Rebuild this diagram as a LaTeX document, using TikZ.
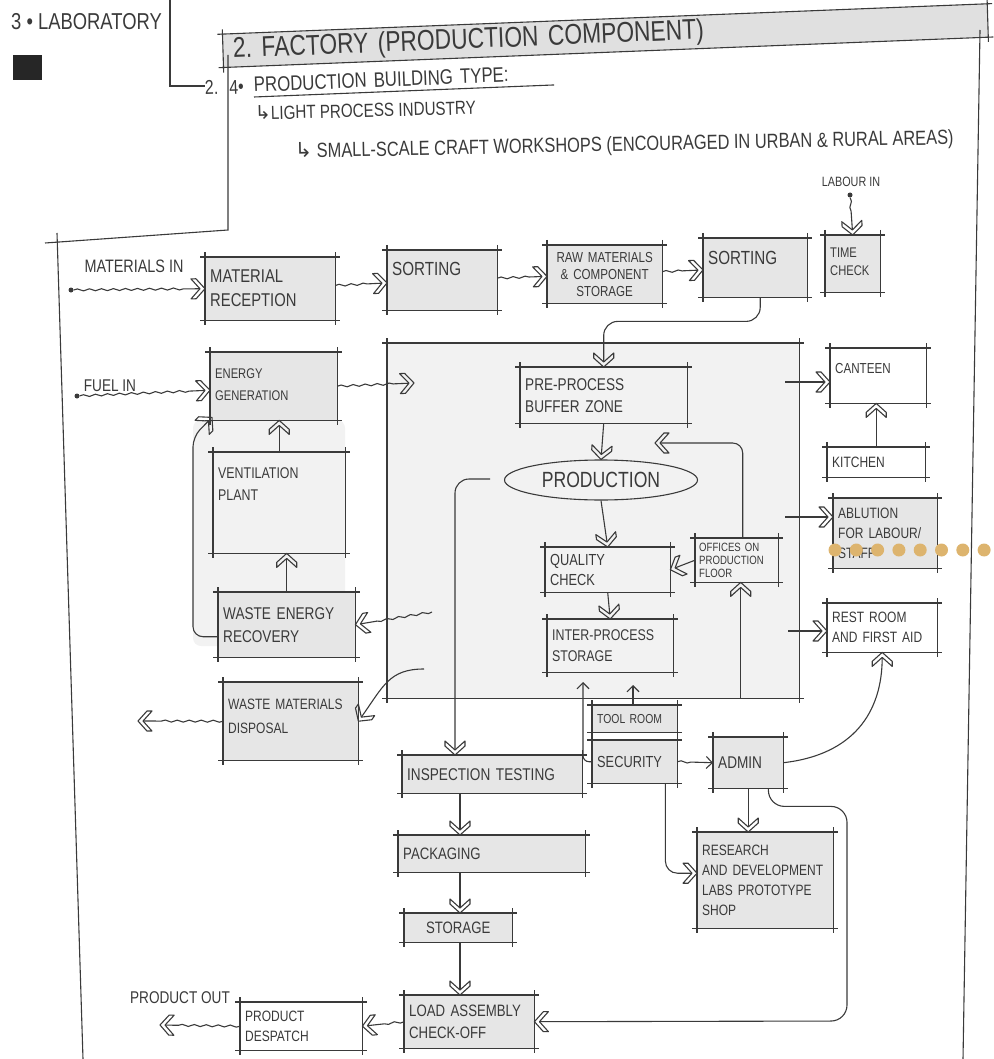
\documentclass[tikz,border=0pt]{standalone}
\usepackage{fontspec}
\newfontfamily\handfont{Liberation Sans}[FakeStretch=0.8]
\newfontfamily\hookfont{DejaVu Sans}
\newcommand\handsize[2]{\handfont\fontsize{#1}{#2}\selectfont}
\usepackage{tikz}
\usetikzlibrary{arrows.meta, shapes.geometric, decorations.pathmorphing}
\definecolor{inkGrey}{HTML}{3A3A3A}
\definecolor{boxGrey}{HTML}{E6E6E6}
\definecolor{areaGrey}{HTML}{F2F2F2}
\definecolor{titleGrey}{HTML}{E0E0E0}
\definecolor{dotTan}{HTML}{DDB46E}
% hollow hand-drawn chevron tip
\pgfdeclarearrow{
  name = Chevron,
  parameters = {\the\pgfarrowlength,\the\pgfarrowwidth},
  setup code = {
    \pgfarrowssettipend{0pt}
    \pgfarrowssetlineend{-.36\pgfarrowlength}
    \pgfarrowssetbackend{-\pgfarrowlength}
    \pgfarrowssetvisualbackend{-\pgfarrowlength}
    \pgfarrowshullpoint{0pt}{0pt}
    \pgfarrowsupperhullpoint{-\pgfarrowlength}{.5\pgfarrowwidth}
    \pgfarrowssavethe\pgfarrowlength
    \pgfarrowssavethe\pgfarrowwidth
  },
  drawing code = {
    \pgfsetdash{}{0pt}
    \pgfsetroundjoin
    \pgfpathmoveto{\pgfqpoint{0pt}{0pt}}
    \pgfpathlineto{\pgfqpoint{-.64\pgfarrowlength}{.5\pgfarrowwidth}}
    \pgfpathlineto{\pgfqpoint{-\pgfarrowlength}{.5\pgfarrowwidth}}
    \pgfpathlineto{\pgfqpoint{-.36\pgfarrowlength}{0pt}}
    \pgfpathlineto{\pgfqpoint{-\pgfarrowlength}{-.5\pgfarrowwidth}}
    \pgfpathlineto{\pgfqpoint{-.64\pgfarrowlength}{-.5\pgfarrowwidth}}
    \pgfpathclose
    \pgfusepathqstroke
  },
  defaults = {length=14pt, width=20pt}
}

\begin{document}
\begin{tikzpicture}[
  x=1pt, y=-1pt,
  ink/.style={draw=inkGrey, line width=1.1pt},
  box/.style={anchor=north west, fill=boxGrey, align=left, inner xsep=5pt, inner ysep=4pt, text=inkGrey},
  lbl/.style={text=inkGrey, inner sep=1pt},
  dotnode/.style={circle, fill=inkGrey, inner sep=0pt, minimum size=5pt},
  chev/.style={ink, -{Chevron[length=14pt, width=20pt]}},
  barb/.style={ink, -{Straight Barb[length=6pt, width=12pt]}},
  wavy/.style={decorate, decoration={snake, amplitude=1pt, segment length=12pt, post length=18pt}}
]
  \useasboundingbox (0,0) rectangle (993,1059);

  % sheet header
  \node[lbl, anchor=west, font=\handsize{23}{26}] (lab3) at (10,22) {3 • LABORATORY};
  \fill[black!85] (13,55) rectangle (42,80);
  \node[box, fill=titleGrey, anchor=west, rotate=2.3, text width=745pt, minimum height=33pt, inner xsep=10pt, inner ysep=1pt, font=\handsize{28.5}{30}] (title) at (223,51) {2.\ FACTORY (PRODUCTION COMPONENT)};
  \node[lbl, anchor=base west, rotate=2, font=\handsize{20}{22}] (num) at (204,95) {2.\hspace{11pt}4\textbullet};
  \node[lbl, anchor=base west, rotate=2.3, text width=300pt, align=left, inner sep=0pt, font=\handsize{21}{24}] (typehead) at (254,92) {PRODUCTION BUILDING TYPE:};
  \draw[ink] ([yshift=-5pt]typehead.base west) -- ([yshift=-5pt]typehead.base east);
  \node[lbl, anchor=base west, rotate=1.5, inner sep=0pt, font=\handsize{19}{22}] (light) at (255,120) {{\hookfont ↳}LIGHT PROCESS INDUSTRY};
  \node[lbl, anchor=base west, rotate=1.2, inner sep=0pt, font=\handsize{20.5}{24}] (small) at (295,158) {{\hookfont ↳} SMALL-SCALE CRAFT WORKSHOPS (ENCOURAGED IN URBAN \& RURAL AREAS)};

  % frame lines
  \draw[ink] (170,0) -- (170,86) -- (205,86);
  \draw[ink] (228,55) -- (228,230) -- (45,243);
  \draw[ink] (57,233) -- (83,1059);
  \draw[ink] (980,30) -- (963,1059);

  % grey zones
  \fill[areaGrey, rounded corners=8pt] (193,420) rectangle (345,646);
  \node[box, fill=areaGrey, minimum width=412pt, minimum height=355pt] (prodarea) at (387,343) {};

  % intake row
  \node[box, text width=120pt, minimum height=63pt, font=\handsize{18.5}{24}] (matrec) at (205,257) {MATERIAL\\RECEPTION};
  \node[box, text width=100pt, text height=21pt, text depth=31pt, font=\handsize{19}{24}] (sort1) at (387,250) {SORTING};
  \node[box, text width=105pt, minimum height=58pt, align=center, font=\handsize{14.5}{17}] (rawmat) at (547,245) {RAW MATERIALS\\\& COMPONENT\\STORAGE};
  \node[box, text width=94pt, text height=22pt, text depth=29pt, font=\handsize{19}{24}] (sort2) at (703,238) {SORTING};
  \node[box, text width=45pt, text height=18pt, text depth=31pt, font=\handsize{14}{18}] (timechk) at (825,235) {TIME\\CHECK};

  % services on the left
  \node[box, text width=117pt, text height=22pt, text depth=38pt, font=\handsize{14}{22}] (energy) at (210,352) {ENERGY\\GENERATION};
  \node[box, fill=areaGrey, text width=122pt, text height=22pt, text depth=71pt, font=\handsize{15.5}{22}] (vent) at (213,452) {VENTILATION\\PLANT};
  \node[box, text width=127pt, minimum height=65pt, font=\handsize{17}{23}] (wer) at (218,592) {WASTE ENERGY\\RECOVERY};
  \node[box, text width=125pt, text height=23pt, text depth=47pt, font=\handsize{15}{24}] (wmd) at (223,682) {WASTE MATERIALS\\DISPOSAL};

  % production floor
  \node[box, fill=areaGrey, text width=157pt, minimum height=56pt, font=\handsize{17}{22}] (preproc) at (520,367) {PRE-PROCESS\\BUFFER ZONE};
  \node[ellipse, ink, fill=areaGrey, minimum width=193pt, minimum height=40pt, inner sep=0pt, text=inkGrey, font=\handsize{22}{24}] (production) at (601,480) {PRODUCTION};
  \node[box, fill=areaGrey, text width=115pt, minimum height=45pt, font=\handsize{16}{20}] (quality) at (545,547) {QUALITY\\CHECK};
  \node[box, fill=areaGrey, text width=75pt, minimum height=44pt, inner xsep=4pt, font=\handsize{12}{13}] (offices) at (695,538) {OFFICES ON\\PRODUCTION\\FLOOR};
  \node[box, fill=areaGrey, text width=116pt, minimum height=53pt, font=\handsize{15.5}{21}] (interproc) at (547,619) {INTER-PROCESS\\STORAGE};

  % staff rooms
  \node[box, fill=white, text width=86pt, text height=21pt, text depth=26pt, font=\handsize{14.5}{18}] (canteen) at (830,348) {CANTEEN};
  \node[box, fill=white, text width=88pt, minimum height=30pt, font=\handsize{15}{18}] (kitchen) at (827,447) {KITCHEN};
  \node[box, text width=94pt, minimum height=70pt, font=\handsize{15}{20}] (ablution) at (833,498) {ABLUTION\\FOR LABOUR/\\STAFF};
  \node[box, fill=white, text width=100pt, minimum height=49pt, font=\handsize{15}{20}] (restroom) at (827,603) {REST ROOM\\AND FIRST AID};

  % outgoing line
  \node[box, text width=75pt, minimum height=27pt, font=\handsize{13}{15}] (toolroom) at (592,705) {TOOL ROOM};
  \node[box, text width=75pt, minimum height=43pt, font=\handsize{16}{18}] (security) at (592,740) {SECURITY};
  \node[box, text width=60pt, minimum height=51pt, font=\handsize{17}{20}] (admin) at (713,737) {ADMIN};
  \node[box, text width=170pt, minimum height=38pt, font=\handsize{17}{20}] (inspect) at (402,755) {INSPECTION TESTING};
  \node[box, text width=177pt, minimum height=37pt, font=\handsize{16.5}{20}] (packaging) at (398,835) {PACKAGING};
  \node[box, text width=98pt, minimum height=29pt, align=center, font=\handsize{16.5}{20}] (storage) at (404,913) {STORAGE};
  \node[box, text width=126pt, minimum height=96pt, font=\handsize{15}{20}] (research) at (697,832) {RESEARCH\\AND DEVELOPMENT\\LABS PROTOTYPE\\SHOP};
  \node[box, text width=120pt, minimum height=53pt, font=\handsize{16.5}{22}] (loadasm) at (404,995) {LOAD ASSEMBLY\\CHECK-OFF};
  \node[box, fill=white, text width=112pt, minimum height=48pt, font=\handsize{15}{20}] (despatch) at (240,1002) {PRODUCT\\DESPATCH};

  % sketchy box edges
  \foreach \n in {title,prodarea,matrec,sort1,rawmat,sort2,timechk,energy,vent,wer,wmd,preproc,quality,offices,interproc,canteen,kitchen,ablution,restroom,toolroom,security,admin,inspect,packaging,storage,research,loadasm,despatch}
    \draw[ink] ([xshift=-5pt]\n.north west) -- ([xshift=5pt]\n.north east)
               ([xshift=-5pt]\n.south west) -- ([xshift=5pt]\n.south east)
               ([yshift=5pt]\n.north west) -- ([yshift=-5pt]\n.south west)
               ([yshift=5pt]\n.north east) -- ([yshift=-5pt]\n.south east);

  % inputs and outputs
  \node[lbl, font=\handsize{18}{20}] (matin) at (134,266) {MATERIALS IN};
  \node[lbl, font=\handsize{17}{20}] (fuelin) at (110,386) {FUEL IN};
  \node[lbl, font=\handsize{13.5}{16}] (labourin) at (851,182) {LABOUR IN};
  \node[lbl, font=\handsize{17}{20}] (prodout) at (180,998) {PRODUCT OUT};
  \node[dotnode] (matdot) at (71,290) {};
  \node[dotnode] (fueldot) at (77,396) {};
  \node[dotnode] (labdot) at (850,195) {};
  \coordinate (wmdout) at (138,721);
  \coordinate (prodtip) at (160,1025);
  \coordinate (heatin) at (414,383);
  \coordinate (werfrom) at (432,612);
  \coordinate (wmdfrom) at (424,669);
  \coordinate (offback) at (655,443);
  \coordinate (prodleft) at (490,479);
  \coordinate (toolin) at (633,685);
  \coordinate (secin) at (583,682);
  \coordinate (rdturn) at (847,1021);
  \coordinate (cantfrom) at (785,382);
  \coordinate (ablfrom) at (785,517);
  \coordinate (restfrom) at (788,631);

  % flows
  \draw[chev, wavy] (matdot) -- (matrec.west);
  \draw[chev, wavy] (matrec) -- (sort1);
  \draw[chev, wavy] (sort1) -- (rawmat);
  \draw[chev, wavy] (rawmat) -- (sort2);
  \draw[chev, wavy] (labdot) -- (timechk.north);
  \draw[chev, rounded corners=14pt] ([xshift=5pt]sort2.south) -- ++(0,24) -| (preproc.north);
  \draw[chev, wavy] (fueldot) -- ([yshift=-4pt]energy.west);
  \draw[chev, wavy] (energy.east) -- (heatin);
  \draw[chev] (vent.north) -- (vent.north |- energy.south);
  \draw[chev] (wer.north) -- (wer.north |- vent.south);
  \draw[chev, rounded corners=10pt] ([yshift=-12pt]wer.west) -- ++(-25,0) -- ++(0,-200) -- ([xshift=2pt, yshift=3pt]energy.south west);
  \draw[chev, wavy] (werfrom) -- (wer.east);
  \draw[chev] (wmdfrom) .. controls +(-35,0) and +(25,-35) .. (wmd.east);
  \draw[chev, wavy] (wmd.west) -- (wmdout);

  \draw[chev] (preproc.south) -- (production.north);
  \draw[chev] (production.south) -- (quality.north);
  \draw[chev] (quality.south) -- (interproc.north);
  \draw[chev] (offices.west) -- (quality.east);
  \draw[chev, rounded corners=10pt] ([xshift=6pt]offices.north) |- (offback);
  \draw[chev] ([xshift=4pt]offices.south |- prodarea.south) -- ([xshift=4pt]offices.south);
  \draw[chev, rounded corners=14pt] (prodleft) -| ([xshift=53pt]inspect.north west);

  \draw[chev] (cantfrom) -- (cantfrom -| canteen.west);
  \draw[chev] (kitchen.north) -- (kitchen.north |- canteen.south);
  \draw[chev] (ablfrom) -- (ablfrom -| ablution.west);
  \draw[chev] (restfrom) -- (restfrom -| restroom.west);

  \draw[barb] ([xshift=41pt]toolroom.north west) -- (toolin);
  \draw[barb, rounded corners=6pt] (security.west) -| (secin);
  \draw[barb, wavy] (security.east) -- (admin.west);
  \draw[chev] (admin.east) .. controls +(70,-8) and +(0,60) .. (restroom.south);
  \draw[chev] (admin.south) -- (admin.south |- research.north);
  \draw[chev, rounded corners=12pt] ([xshift=-12pt]security.south east) |- ([yshift=7pt]research.west);
  \draw[chev, rounded corners=16pt] ([xshift=-15pt]admin.south east) -- ++(0,18) -| (rdturn) -- (loadasm.east);

  \draw[chev] ([xshift=62pt]packaging.north west |- inspect.south) -- ([xshift=62pt]packaging.north west);
  \draw[chev] ([xshift=62pt]packaging.south west) -- ([xshift=62pt]packaging.south west |- storage.north);
  \draw[chev] ([xshift=56pt]storage.south west) -- ([xshift=56pt]loadasm.north west);
  \draw[chev, wavy] (loadasm.west) -- (despatch.east);
  \draw[chev, wavy] (despatch.west) -- (prodtip);

  % marker dots
  \foreach \i in {0,...,7}
    \fill[dotTan] (835+21.3*\i, 550) circle (6.5pt);
\end{tikzpicture}
\end{document}
